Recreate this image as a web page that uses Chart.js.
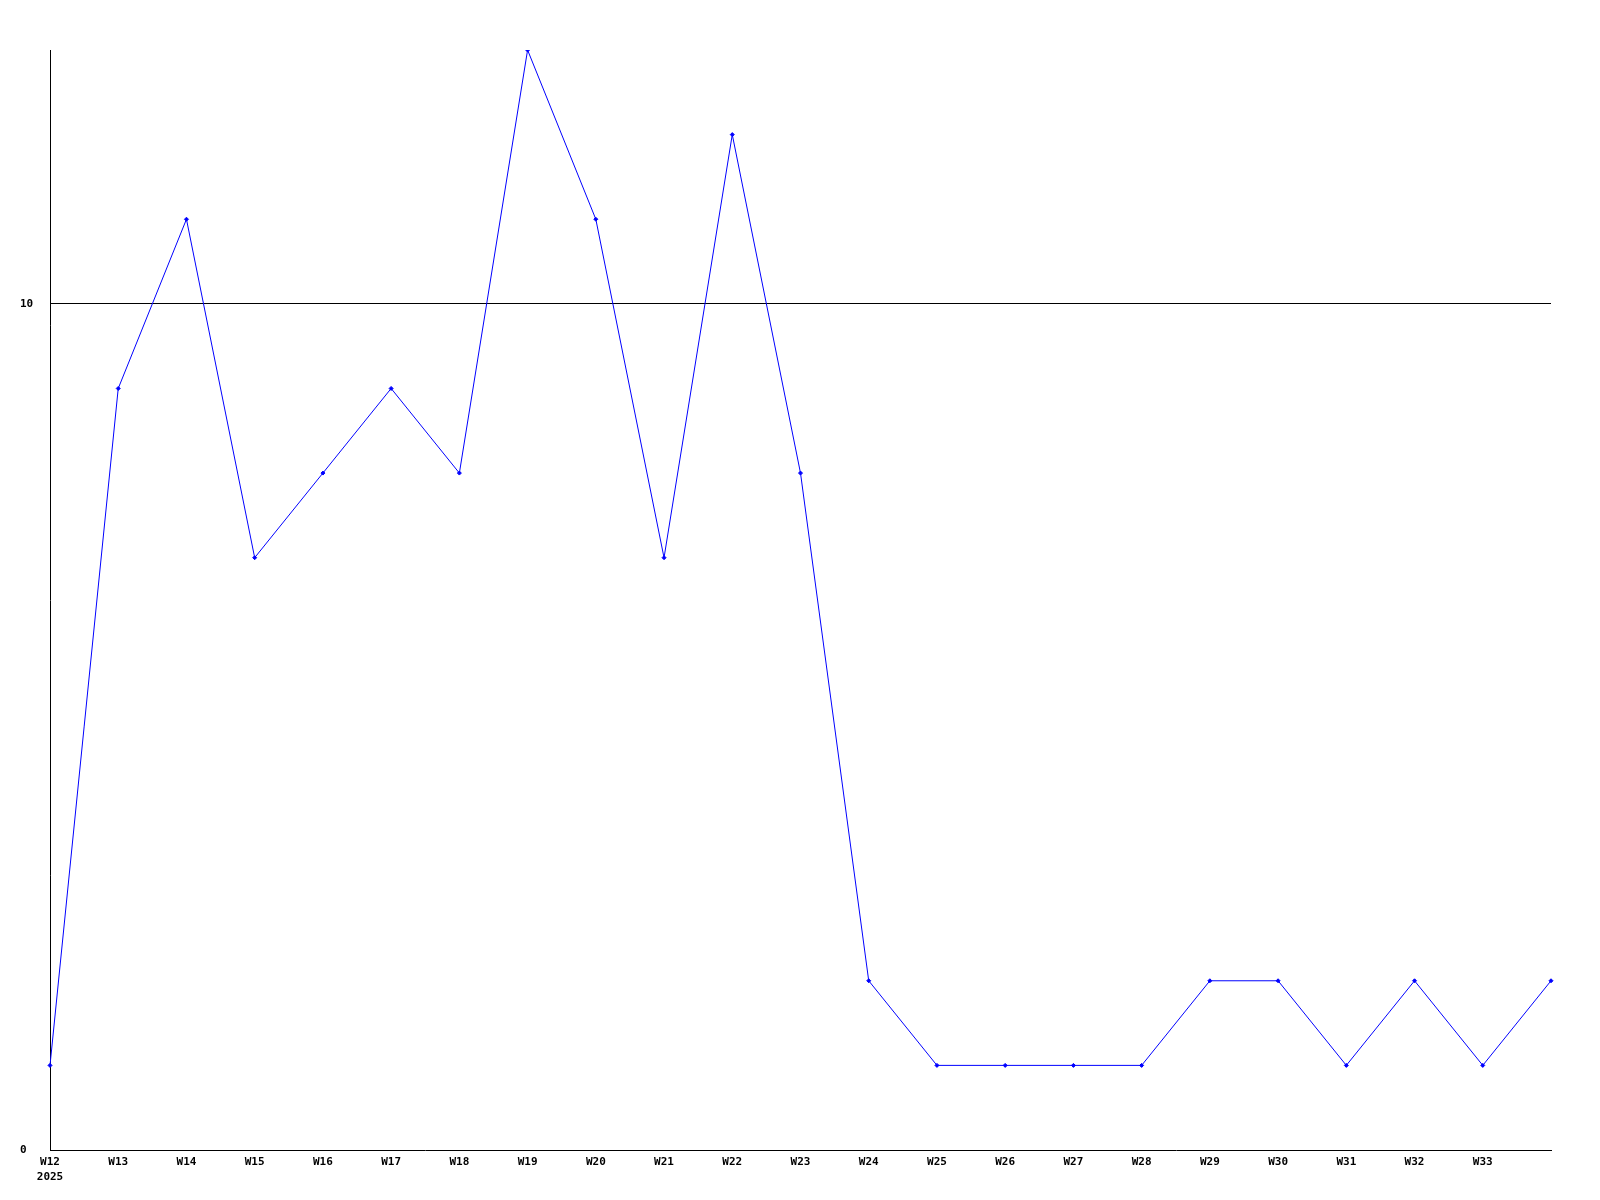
<!DOCTYPE html>
<html>
<head>
<meta charset="utf-8">
<script src="https://cdn.jsdelivr.net/npm/chart.js@4"></script>
<style>
  html, body { margin: 0; padding: 0; background: #fff; }
  #wrap { width: 1600px; height: 1200px; }
</style>
</head>
<body>
<div id="wrap"><canvas id="chart" width="1600" height="1200"></canvas></div>
<script>
// weekly values, W12 .. W34 (W34 label is not shown)
const weeks = ['W12','W13','W14','W15','W16','W17','W18','W19','W20','W21','W22','W23',
               'W24','W25','W26','W27','W28','W29','W30','W31','W32','W33','W34'];
const counts = [1, 9, 11, 7, 8, 9, 8, 13, 11, 7, 12, 8, 2, 1, 1, 1, 1, 2, 2, 1, 2, 1, 2];
const yearLabel = '2025';
const yTicks = [0, 10];

// fonts
Chart.defaults.font.family = '"DejaVu Sans Mono", monospace';
Chart.defaults.font.size = 11;
Chart.defaults.font.weight = 'bold';
Chart.defaults.color = '#000';

new Chart(document.getElementById('chart'), {
  type: 'line',
  data: {
    labels: weeks,
    datasets: [{
      data: counts,
      borderColor: '#0000ff',
      backgroundColor: '#0000ff',
      borderWidth: 1,
      pointRadius: 2,
      pointStyle: 'rectRot',
      pointBorderWidth: 1,
      tension: 0,
      fill: false,
    }],
  },
  options: {
    responsive: false,
    animation: false,
    layout: { padding: { top: 50, right: 49, left: 20, bottom: 0 } },
    scales: {
      x: {
        offset: false,
        grid: { display: false, drawTicks: false },
        border: { display: true, color: '#000', width: 1 },
        ticks: {
          autoSkip: false,
          maxRotation: 0,
          padding: 5,
          font: { lineHeight: 1.35 },
          callback: (val, i) => {
            if (i === weeks.length - 1) return '';
            if (i === 0) return [weeks[i], yearLabel];
            return weeks[i];
          },
        },
        afterFit: scale => { scale.height = 50; },
      },
      y: {
        min: 0,
        max: 13,
        afterBuildTicks: scale => { scale.ticks = yTicks.map(v => ({ value: v })); },
        grid: {
          color: ctx => (ctx.tick && ctx.tick.value === 10 ? '#000' : 'rgba(0,0,0,0)'),
          lineWidth: 1,
          drawTicks: false,
        },
        border: { display: true, color: '#000', width: 1 },
        ticks: {
          crossAlign: 'far',
          padding: 10,
          callback: v => String(v),
        },
        afterFit: scale => { scale.width = 30; },
      },
    },
    plugins: {
      legend: { display: false },
      tooltip: { enabled: false },
    },
  },
});
</script>
</body>
</html>
